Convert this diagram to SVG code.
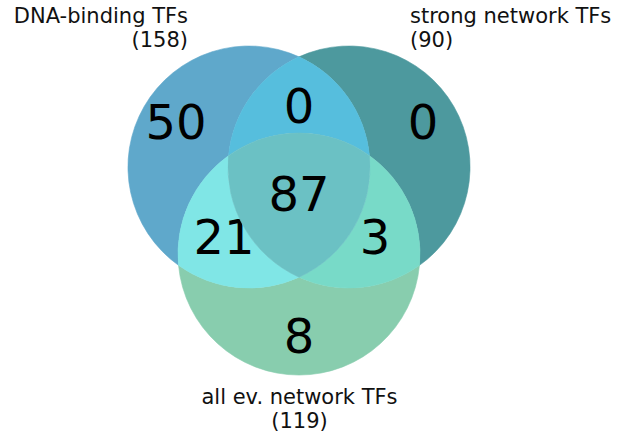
<svg xmlns="http://www.w3.org/2000/svg" width="620" height="437" viewBox="0 0 620 437">
<style>
.lbl{font-family:"DejaVu Sans","Liberation Sans",sans-serif;font-size:21px;fill:#111}
.num{font-family:"DejaVu Sans","Liberation Sans",sans-serif;font-size:48px;fill:#000;text-anchor:middle}
.r{stroke-width:0.6}
</style>
<rect width="620" height="437" fill="#ffffff"/>
<g id="region-A-only"><path class="r" fill="#5FA8CB" stroke="#5FA8CB" d="M299,56.81 A121,121 0 0 0 178.53,265.37 A121,121 0 0 1 228.53,155.63 A121,121 0 0 1 299,56.81 Z"/><text class="num" x="176" y="139">50</text></g>
<g id="region-B-only"><path class="r" fill="#4D999E" stroke="#4D999E" d="M299,56.81 A121,121 0 0 1 419.47,265.37 A121,121 0 0 0 369.47,155.63 A121,121 0 0 0 299,56.81 Z"/><text class="num" x="423" y="139">0</text></g>
<g id="region-C-only"><path class="r" fill="#88CDAE" stroke="#88CDAE" d="M178.53,265.37 A121,121 0 0 0 419.47,265.37 A121,121 0 0 1 299,277.19 A121,121 0 0 1 178.53,265.37 Z"/><text class="num" x="299" y="353">8</text></g>
<g id="region-AB"><path class="r" fill="#56BEDD" stroke="#56BEDD" d="M299,56.81 A121,121 0 0 1 369.47,155.63 A121,121 0 0 0 228.53,155.63 A121,121 0 0 1 299,56.81 Z"/><text class="num" x="299" y="123">0</text></g>
<g id="region-AC"><path class="r" fill="#80E6E6" stroke="#80E6E6" d="M178.53,265.37 A121,121 0 0 1 228.53,155.63 A121,121 0 0 0 299,277.19 A121,121 0 0 1 178.53,265.37 Z"/><text class="num" x="224" y="254">21</text></g>
<g id="region-BC"><path class="r" fill="#78DAC8" stroke="#78DAC8" d="M419.47,265.37 A121,121 0 0 0 369.47,155.63 A121,121 0 0 1 299,277.19 A121,121 0 0 0 419.47,265.37 Z"/><text class="num" x="375" y="254">3</text></g>
<g id="region-ABC"><path class="r" fill="#6BC1C4" stroke="#6BC1C4" d="M228.53,155.63 A121,121 0 0 1 369.47,155.63 A121,121 0 0 1 299,277.19 A121,121 0 0 1 228.53,155.63 Z"/><text class="num" x="299" y="211">87</text></g>
<g id="label-A"><text class="lbl" x="188" y="22.5" text-anchor="end">DNA-binding TFs</text><text class="lbl" x="188" y="46.5" text-anchor="end">(158)</text></g>
<g id="label-B"><text class="lbl" x="410" y="22.5">strong network TFs</text><text class="lbl" x="410" y="46.5">(90)</text></g>
<g id="label-C"><text class="lbl" x="299.5" y="404" text-anchor="middle">all ev. network TFs</text><text class="lbl" x="299.5" y="428" text-anchor="middle">(119)</text></g>
<g id="connectors"/>
</svg>
